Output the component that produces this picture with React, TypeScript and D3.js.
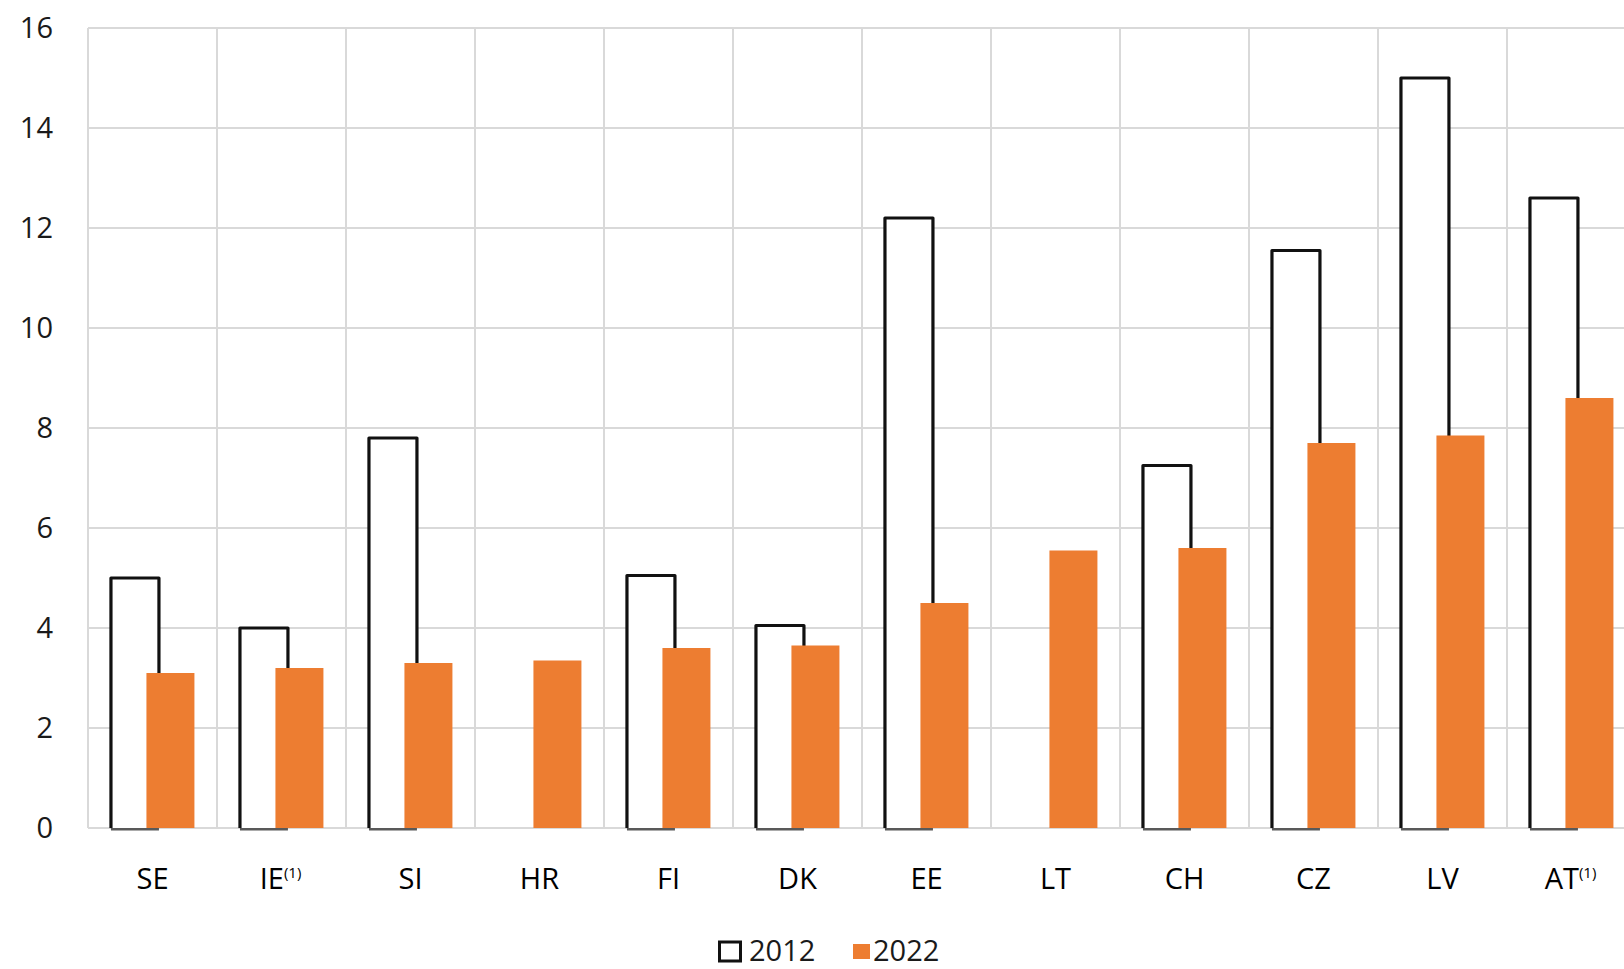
import React, { useEffect, useRef } from "react";
import * as d3 from "d3";

const categories = ["SE", "IE", "SI", "HR", "FI", "DK", "EE", "LT", "CH", "CZ", "LV", "AT"];
const footnoted = ["IE", "AT"];
const values2012: (number | null)[] = [5.0, 4.0, 7.8, null, 5.05, 4.05, 12.2, null, 7.25, 11.55, 15.0, 12.6];
const values2022 = [3.1, 3.2, 3.3, 3.35, 3.6, 3.65, 4.5, 5.55, 5.6, 7.7, 7.85, 8.6];
const yTicks = [0, 2, 4, 6, 8, 10, 12, 14, 16];
const seriesNames = ["2012", "2022"];

const width = 1624;
const height = 969;
const plot = { left: 88, top: 28, bottom: 828, band: 129 };
const orange = "#ed7d31";
const grid = "#d9d9d9";
const font = "'Open Sans', 'Noto Sans', sans-serif";

export default function App(): JSX.Element {
  const ref = useRef<SVGSVGElement>(null);

  useEffect(() => {
    if (!ref.current) return;
    const svg = d3.select(ref.current);
    svg.selectAll("*").remove();

    const x = d3
      .scaleBand()
      .domain(categories)
      .range([plot.left, plot.left + plot.band * categories.length])
      .paddingInner(0)
      .paddingOuter(0);

    const y = d3.scaleLinear().domain([0, 16]).range([plot.bottom, plot.top]);

    const bw = x.bandwidth();
    const barW = bw * 0.372;
    const off2012 = bw * 0.178;
    const off2022 = bw * 0.453;

    // grid
    const g = svg.append("g");
    g.selectAll("line.h")
      .data(yTicks)
      .join("line")
      .attr("x1", plot.left)
      .attr("x2", width)
      .attr("y1", (d) => y(d))
      .attr("y2", (d) => y(d))
      .attr("stroke", grid)
      .attr("stroke-width", 2);

    const bounds = categories.map((c) => x(c) as number);
    bounds.push(plot.left + bw * categories.length);
    g.selectAll("line.v")
      .data(bounds)
      .join("line")
      .attr("x1", (d) => d)
      .attr("x2", (d) => d)
      .attr("y1", plot.top)
      .attr("y2", plot.bottom)
      .attr("stroke", grid)
      .attr("stroke-width", 2);

    // y tick labels
    svg
      .append("g")
      .selectAll("text")
      .data(yTicks)
      .join("text")
      .attr("x", 53)
      .attr("y", (d) => y(d))
      .attr("dy", "0.36em")
      .attr("text-anchor", "end")
      .attr("font-family", font)
      .attr("font-size", 29)
      .attr("font-weight", 500)
      .attr("fill", "#1a1a1a")
      .text((d) => d);

    // 2012 hollow bars
    const hollow = svg.append("g");
    categories.forEach((c, i) => {
      const v = values2012[i];
      if (v == null) return;
      const x0 = (x(c) as number) + off2012;
      const x1 = x0 + barW;
      hollow
        .append("line")
        .attr("x1", x0)
        .attr("x2", x1)
        .attr("y1", y(0) + 1)
        .attr("y2", y(0) + 1)
        .attr("stroke", "#595959")
        .attr("stroke-width", 3);
      hollow
        .append("path")
        .attr("d", `M${x0},${y(0)}V${y(v)}H${x1}V${y(0)}`)
        .attr("fill", "white")
        .attr("stroke", "#111")
        .attr("stroke-width", 3.2)
        .attr("stroke-linejoin", "round");
    });

    // 2022 filled bars
    svg
      .append("g")
      .selectAll("rect")
      .data(values2022)
      .join("rect")
      .attr("x", (d, i) => (x(categories[i]) as number) + off2022)
      .attr("y", (d) => y(d))
      .attr("width", barW)
      .attr("height", (d) => y(0) - y(d))
      .attr("fill", orange);

    // x labels
    const xl = svg
      .append("g")
      .selectAll("text")
      .data(categories)
      .join("text")
      .attr("x", (d) => (x(d) as number) + bw / 2 + (footnoted.includes(d) ? -1 : 0))
      .attr("y", 889)
      .attr("text-anchor", "middle")
      .attr("font-family", font)
      .attr("font-size", 29)
      .attr("font-weight", 500)
      .attr("fill", "#000");
    xl.append("tspan").text((d) => d);
    xl.filter((d) => footnoted.includes(d))
      .append("tspan")
      .attr("font-size", 15)
      .attr("dy", -11)
      .text("(1)");

    // legend
    const lg = svg
      .append("g")
      .attr("font-family", font)
      .attr("font-size", 29)
      .attr("font-weight", 500)
      .attr("fill", "#1a1a1a");
    lg.append("rect")
      .attr("x", 719.5)
      .attr("y", 942)
      .attr("width", 21)
      .attr("height", 19)
      .attr("fill", "white")
      .attr("stroke", "#111")
      .attr("stroke-width", 3);
    lg.append("text").attr("x", 749).attr("y", 961).text(seriesNames[0]);
    lg.append("rect")
      .attr("x", 853)
      .attr("y", 944)
      .attr("width", 17)
      .attr("height", 15)
      .attr("fill", orange);
    lg.append("text").attr("x", 873).attr("y", 961).text(seriesNames[1]);
  }, []);

  return (
    <svg
      ref={ref}
      width={width}
      height={height}
      style={{ position: "absolute", left: 0, top: 0, background: "white" }}
    />
  );
}
